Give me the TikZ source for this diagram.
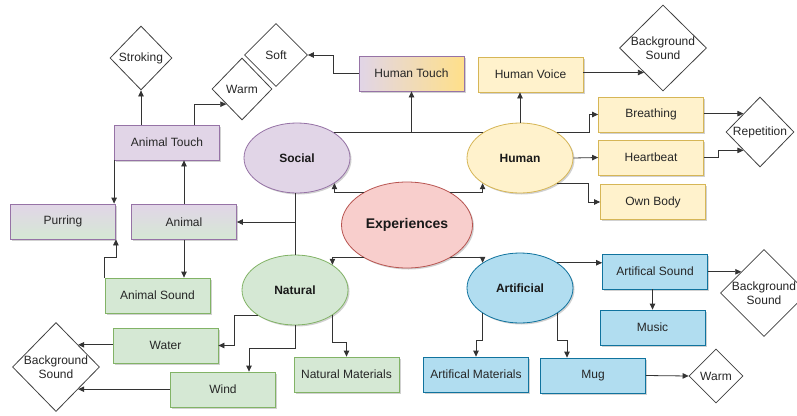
\documentclass[tikz,border=0pt]{standalone}
\usepackage{fontspec}
\setmainfont{Liberation Sans}
\usetikzlibrary{shapes.geometric, arrows.meta, shadows}
\definecolor{purpfill}{HTML}{E1D5E7}
\definecolor{purpdraw}{HTML}{9673A6}
\definecolor{yelfill}{HTML}{FFF2CC}
\definecolor{yeldraw}{HTML}{D6B656}
\definecolor{goldfill}{HTML}{FFE08A}
\definecolor{redfill}{HTML}{F8CECC}
\definecolor{reddraw}{HTML}{B85450}
\definecolor{grnfill}{HTML}{D5E8D4}
\definecolor{grndraw}{HTML}{82B366}
\definecolor{blufill}{HTML}{B1DDF0}
\definecolor{bludraw}{HTML}{10739E}
\tikzset{
  soft shadow/.style={
    drop shadow={shadow xshift=1.5pt, shadow yshift=-1.5pt, fill=black, opacity=0.18},
  },
  item box/.style={
    draw,
    line width=0.8pt,
    minimum width=105pt,
    minimum height=35pt,
    inner sep=0pt,
    align=center,
    text=black!85,
    font=\fontsize{12}{14}\selectfont,
    soft shadow,
  },
  topic node/.style={
    ellipse,
    draw,
    line width=0.8pt,
    minimum width=106pt,
    minimum height=70pt,
    text=black!90,
    font=\bfseries\fontsize{12}{14}\selectfont,
    soft shadow,
  },
  leaf node/.style={
    diamond,
    draw=black!75,
    line width=0.8pt,
    fill=white,
    inner sep=0pt,
    align=center,
    text=black!85,
    font=\fontsize{12}{14}\selectfont,
  },
  purple tone/.style={fill=purpfill, draw=purpdraw},
  yellow tone/.style={fill=yelfill, draw=yeldraw},
  red tone/.style={fill=redfill, draw=reddraw},
  green tone/.style={fill=grnfill, draw=grndraw},
  blue tone/.style={fill=blufill, draw=bludraw},
  gold fade/.style={left color=purpfill, right color=goldfill, draw=purpdraw},
  green fade/.style={top color=purpfill, bottom color=grnfill, draw=purpdraw},
  plain/.style={draw=black!80, line width=0.8pt},
  link/.style={plain, -{Triangle[length=6pt, width=5.5pt]}},
}

\begin{document}
\begin{tikzpicture}[x=1pt, y=-1pt]
  \clip (0,0) rectangle (797,415);
  \fill[white] (0,0) rectangle (797,415);

  \node[topic node, red tone, minimum width=131pt, minimum height=86pt,
        font=\bfseries\fontsize{14}{16}\selectfont] (exp) at (407,225) {Experiences};
  \node[topic node, purple tone] (social)     at (297,158) {Social};
  \node[topic node, yellow tone] (human)      at (520,158) {Human};
  \node[topic node, green tone ] (natural)    at (295,290) {Natural};
  \node[topic node, blue tone  ] (artificial) at (520,288) {Artificial};

  \node[item box, gold fade  ] (htouch)    at (411.5,73.5)  {Human Touch};
  \node[item box, yellow tone] (hvoice)    at (530.5,74.5)  {Human Voice};
  \node[item box, yellow tone] (breathing) at (651,114.5)   {Breathing};
  \node[item box, yellow tone] (heartbeat) at (651,157.5)   {Heartbeat};
  \node[item box, yellow tone] (ownbody)   at (653,202)     {Own Body};
  \node[item box, purple tone] (atouch)    at (167,142.5)   {Animal Touch};
  \node[item box, green fade ] (purring)   at (63,221.5)    {Purring};
  \node[item box, green fade ] (animal)    at (184,222)     {Animal};
  \node[item box, green tone ] (anisound)  at (157.5,295.5) {Animal Sound};
  \node[item box, green tone ] (water)     at (165.5,345.5) {Water};
  \node[item box, green tone ] (wind)      at (223,389.5)   {Wind};
  \node[item box, green tone ] (nmat)      at (346.5,374.5) {Natural Materials};
  \node[item box, blue tone  ] (amat)      at (476,374.5)   {Artifical Materials};
  \node[item box, blue tone  ] (mug)       at (593,375.5)   {Mug};
  \node[item box, blue tone  ] (asound)    at (655,271.5)   {Artifical Sound};
  \node[item box, blue tone  ] (music)     at (652.5,327.5) {Music};

  \node[leaf node, minimum width=62pt, minimum height=64pt] (stroking)   at (141,58)  {Stroking};
  \node[leaf node, minimum width=63pt, minimum height=63pt] (soft)       at (276,55)  {Soft};
  \node[leaf node, minimum width=60pt, minimum height=62pt] (warm1)      at (242,89)  {Warm};
  \node[leaf node, minimum width=87pt, minimum height=86pt, inner sep=-2pt] (bgsound1) at (663,48) {Background\\Sound};
  \node[leaf node, minimum width=68pt, minimum height=70pt] (repetition) at (760,132) {Repetition};
  \node[leaf node, minimum width=87pt, minimum height=87pt, inner sep=-2pt] (bgsound2) at (764,293) {Background\\Sound};
  \node[leaf node, minimum width=54pt, minimum height=54pt] (warm2)      at (716,376) {Warm};
  \node[leaf node, minimum width=87pt, minimum height=89pt, inner sep=-2pt] (bgsound3) at (56,367) {Background\\Sound};

  \draw[link]  (exp.143)  -| (social.-34);
  \draw[link]  (exp.37)   -| (human.-146);
  \draw[link]  (exp.-143) -| (natural.34);
  \draw[link]  (exp.-37)  -| (artificial.146);

  \draw[plain] (social.34) -- (human.146);
  \draw[link]  (social.34 -| htouch.south) -- (htouch.south);
  \draw[link]  (human.north) -- (human.north |- hvoice.south);
  \draw[link]  (human.34) -- ++(32,0) |- (breathing.west);
  \draw[link]  (human.east) -- (heartbeat.west);
  \draw[link]  (human.-34) -- ++(31,0) |- (ownbody.west);
  \draw[link]  (bgsound1.232 -| hvoice.east) -- (bgsound1.232);
  \draw[link]  (repetition.132 -| breathing.east) -- (repetition.132);
  \draw[link]  (heartbeat.east) -- ++(14,0) |- (repetition.228);
  \draw[link]  (htouch.west) -- ++(-25,0) |- (soft.east);

  \draw[link]  (stroking.south |- atouch.north) -- (stroking.south);
  \draw[link]  ([xshift=-26pt]atouch.north east) |- (warm1.224);
  \draw[link]  (atouch.south west) -- (atouch.south west |- purring.north);
  \draw[link]  (animal.north) -- (animal.north |- atouch.south);
  \draw[plain] (natural.north) -- (natural.north |- social.south);
  \draw[link]  (natural.north |- animal.east) -- (animal.east);
  \draw[link]  (animal.south) -- (animal.south |- anisound.north);
  \draw[link]  (anisound.north west) -- ++(0,-20) -| (purring.south east);

  \draw[link]  (natural.214) -- ++(-23,0) |- (water.east);
  \draw[link]  (natural.south) -- ++(0,23) -| ([xshift=26pt]wind.north);
  \draw[link]  (natural.-34) -- ++(0,27) -| (nmat.north);
  \draw[link]  (bgsound3.45 -| water.west) -- (bgsound3.45);
  \draw[link]  (bgsound3.-45 -| wind.west) -- (bgsound3.-45);

  \draw[link]  (artificial.34) -- (artificial.34 -| asound.west);
  \draw[link]  (music.north |- asound.south) -- (music.north);
  \draw[link]  (bgsound2.137 -| asound.east) -- (bgsound2.137);
  \draw[link]  (artificial.-146) -- ++(0,27) -| (amat.north);
  \draw[link]  (artificial.-34) -- ++(0,27) -| ([xshift=-26pt]mug.north);
  \draw[link]  (mug.east) -- (warm2.west);
\end{tikzpicture}
\end{document}
